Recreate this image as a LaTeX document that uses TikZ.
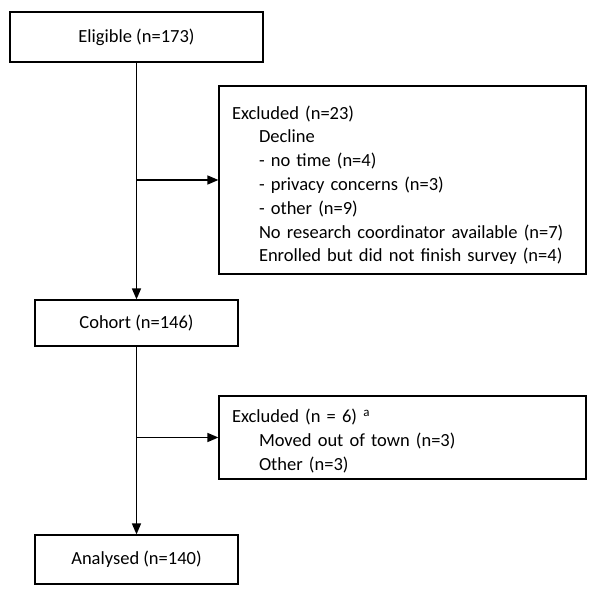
\documentclass[tikz,border=0pt]{standalone}
\usepackage{fontspec}
\setmainfont{Carlito}
\usetikzlibrary{arrows.meta}
\newcommand{\ind}{\hspace*{27pt}}

\begin{document}
\begin{tikzpicture}[x=1pt,y=-1pt,
  box/.style={draw, line width=1.2pt, font=\fontsize{18.5}{23.8}\selectfont},
  sidebox/.style={box, minimum width=367pt, inner xsep=13pt, text width=341pt, align=left},
  flow/.style={line width=1.4pt, -{Triangle[length=11pt,width=9pt]}}]
  \useasboundingbox (0,0) rectangle (600,593);

  % Main boxes
  \node[box, minimum width=253pt, minimum height=50pt] (eligible) at (136.5,37) {Eligible (n=173)};
  \node[box, minimum width=203pt, minimum height=46pt] (cohort) at (136.5,323) {Cohort (n=146)};
  \node[box, minimum width=203pt, minimum height=49pt] (analysed) at (136.5,559.5) {Analysed (n=140)};

  % Exclusion boxes
  \node[sidebox, minimum height=188pt] (excl1) at (402.5,180) {\rule{0pt}{24pt}Excluded (n=23)\\
    \ind Decline\\
    \ind - no time (n=4)\\
    \ind - privacy concerns (n=3)\\
    \ind - other (n=9)\\
    \ind No research coordinator available (n=7)\\
    \ind Enrolled but did not finish survey (n=4)};
  \node[sidebox, minimum height=83pt] (excl2) at (402.5,437.5) {\rule{0pt}{20pt}Excluded (n = 6) \textsuperscript{a}\\
    \ind Moved out of town (n=3)\\
    \ind Other (n=3)};

  % Arrows
  \draw[flow] (eligible.south) -- (cohort.north);
  \draw[flow] (eligible.south |- excl1.west) -- (excl1.west);
  \draw[flow] (cohort.south) -- (analysed.north);
  \draw[flow] (cohort.south |- excl2.west) -- (excl2.west);
\end{tikzpicture}
\end{document}
